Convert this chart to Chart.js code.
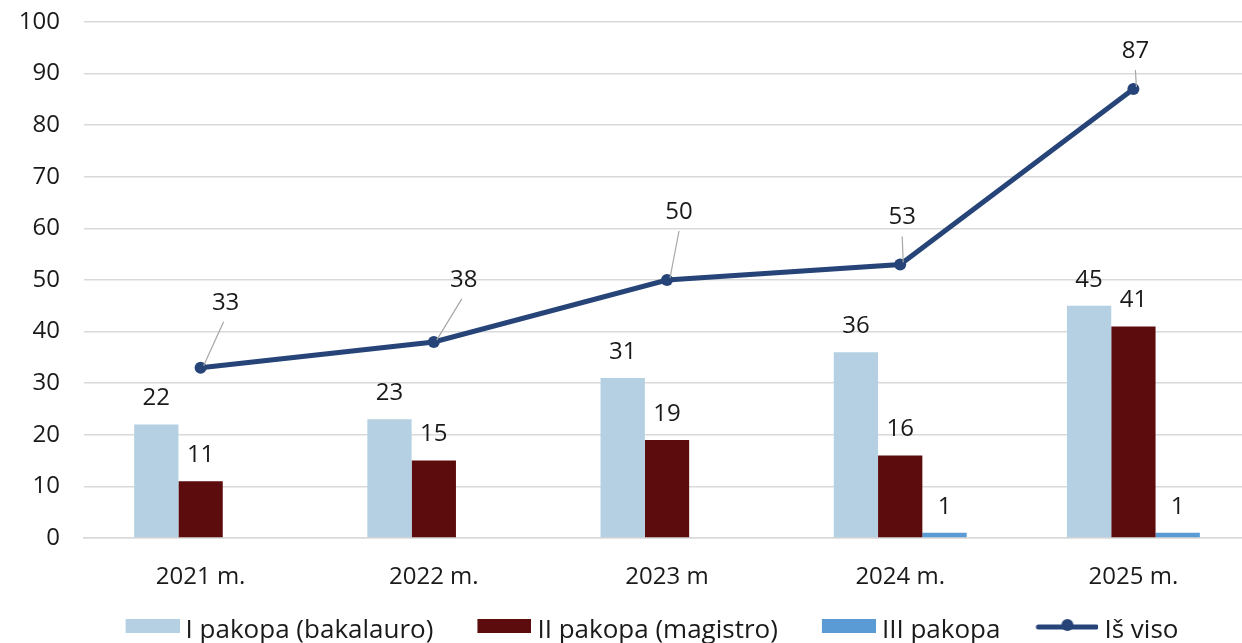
<!DOCTYPE html>
<html>
<head>
<meta charset="utf-8">
<script src="https://cdn.jsdelivr.net/npm/chart.js@4.4.1/dist/chart.umd.min.js"></script>
<style>
  html, body { margin: 0; padding: 0; background: #ffffff; overflow: hidden; }
  #wrap { width: 1242px; height: 643px; position: relative; overflow: hidden; }
  #c { display: block; }
</style>
</head>
<body>
<div id="wrap"><canvas id="c" width="1256" height="643"></canvas></div>
<script>
const categories = ['2021 m.', '2022 m.', '2023 m', '2024 m.', '2025 m.'];
const seriesNames = ['I pakopa (bakalauro)', 'II pakopa (magistro)', 'III pakopa', 'Iš viso'];
const bachelor = [22, 23, 31, 36, 45];
const master = [11, 15, 19, 16, 41];
const doctoral = [null, null, null, 1, 1];
const total = [33, 38, 50, 53, 87];
const yTicks = [0, 10, 20, 30, 40, 50, 60, 70, 80, 90, 100];

// label placement for the total line (pixel offsets from the point, style only)
const totalLabelOffsets = [[25, -65], [30, -62], [12, -68], [2, -47], [2, -38]];

const FONT = '"Open Sans", sans-serif';
const TEXT = '#1a1a1a';
const COLORS = ['#B4D0E2', '#5C0C0C', '#5B9BD5', '#264478'];

Chart.defaults.font.family = FONT;
Chart.defaults.color = TEXT;

// legend icons: a transparent left part keeps the spacing between items
const PSW = 89;                 // layout width of the legend icon slot
const ICON_W = PSW + 14;        // drawn canvas width (icon ends 6px before text)
function rectIcon(color) {
  const cv = document.createElement('canvas');
  cv.width = ICON_W; cv.height = 26;
  const g = cv.getContext('2d');
  g.fillStyle = color;
  g.fillRect(ICON_W - 54, 1, 54, 14);
  return cv;
}
function lineIcon(color) {
  const cv = document.createElement('canvas');
  cv.width = ICON_W; cv.height = 26;
  const g = cv.getContext('2d');
  g.strokeStyle = color;
  g.lineWidth = 5;
  g.lineCap = 'round';
  g.beginPath(); g.moveTo(ICON_W - 60, 9); g.lineTo(ICON_W - 2, 9); g.stroke();
  g.fillStyle = color;
  g.beginPath(); g.arc(ICON_W - 31, 7, 6, 0, Math.PI * 2); g.fill();
  return cv;
}

const labelPlugin = {
  id: 'valueLabels',
  afterLayout(chart) {
    const lg = chart.legend;
    if (lg) { lg.left += 8; lg.top += 11; lg.bottom += 11; }
  },
  afterDatasetsDraw(chart) {
    const ctx = chart.ctx;
    ctx.save();
    ctx.font = '24px ' + FONT;
    ctx.fillStyle = TEXT;
    ctx.textAlign = 'center';
    ctx.textBaseline = 'middle';
    chart.data.datasets.forEach((ds, di) => {
      const meta = chart.getDatasetMeta(di);
      meta.data.forEach((el, i) => {
        const v = ds.data[i];
        if (v === null || v === undefined) return;
        if (ds.type === 'line') {
          const [dx, dy] = totalLabelOffsets[i];
          const lx = el.x + dx, ly = el.y + dy;
          ctx.strokeStyle = '#A6A6A6';
          ctx.lineWidth = 1.2;
          ctx.beginPath();
          ctx.moveTo(lx - (dx > 15 ? 2 : 0), ly + 19);
          ctx.lineTo(el.x + 3, el.y - 2);
          ctx.stroke();
          ctx.fillText(String(v), lx, ly);
        } else {
          ctx.fillText(String(v), el.x, el.y - 26);
        }
      });
    });
    ctx.restore();
  }
};

new Chart(document.getElementById('c'), {
  data: {
    labels: categories,
    datasets: [
      { type: 'line', label: seriesNames[3], data: total, borderColor: COLORS[3], backgroundColor: COLORS[3],
        borderWidth: 5, pointRadius: 6, pointHoverRadius: 6, pointBackgroundColor: COLORS[3], pointBorderWidth: 0,
        tension: 0, order: 0 },
      { type: 'bar', label: seriesNames[0], data: bachelor, backgroundColor: COLORS[0], order: 1 },
      { type: 'bar', label: seriesNames[1], data: master, backgroundColor: COLORS[1], order: 1 },
      { type: 'bar', label: seriesNames[2], data: doctoral, backgroundColor: COLORS[2], order: 1 }
    ]
  },
  options: {
    responsive: false,
    animation: false,
    events: [],
    layout: { padding: { top: 22, right: 2, left: 0, bottom: 0 } },
    datasets: { bar: { categoryPercentage: 0.57, barPercentage: 1.0 } },
    scales: {
      x: {
        grid: { display: false, drawTicks: false },
        border: { display: true, color: '#D9D9D9', width: 1.5 },
        ticks: { font: { size: 24 }, color: TEXT, padding: 25 },
        afterFit(scale) { scale.height = 67; }
      },
      y: {
        min: 0, max: 100,
        afterBuildTicks(scale) { scale.ticks = yTicks.map(v => ({ value: v })); },
        afterFit(scale) { scale.width = 84; scale.paddingTop = 0; scale.paddingBottom = 0; },
        grid: { color: '#D9D9D9', lineWidth: 1.5, drawTicks: false },
        border: { display: false },
        ticks: { font: { size: 24 }, color: TEXT, padding: 24 }
      }
    },
    plugins: {
      tooltip: { enabled: false },
      legend: {
        position: 'bottom',
        labels: {
          usePointStyle: true,
          pointStyleWidth: PSW,
          boxHeight: 16,
          padding: 2,
          font: { size: 26 },
          color: TEXT,
          sort: (a, b) => {
            const order = [1, 2, 3, 0];
            return order.indexOf(a.datasetIndex) - order.indexOf(b.datasetIndex);
          },
          generateLabels(chart) {
            return chart.data.datasets.map((ds, i) => ({
              text: ds.label,
              datasetIndex: i,
              fillStyle: ds.backgroundColor,
              strokeStyle: ds.backgroundColor,
              lineWidth: 0,
              hidden: false,
              fontColor: TEXT,
              pointStyle: ds.type === 'line' ? lineIcon(ds.borderColor) : rectIcon(ds.backgroundColor)
            }));
          }
        }
      }
    }
  },
  plugins: [labelPlugin]
});
</script>
</body>
</html>
